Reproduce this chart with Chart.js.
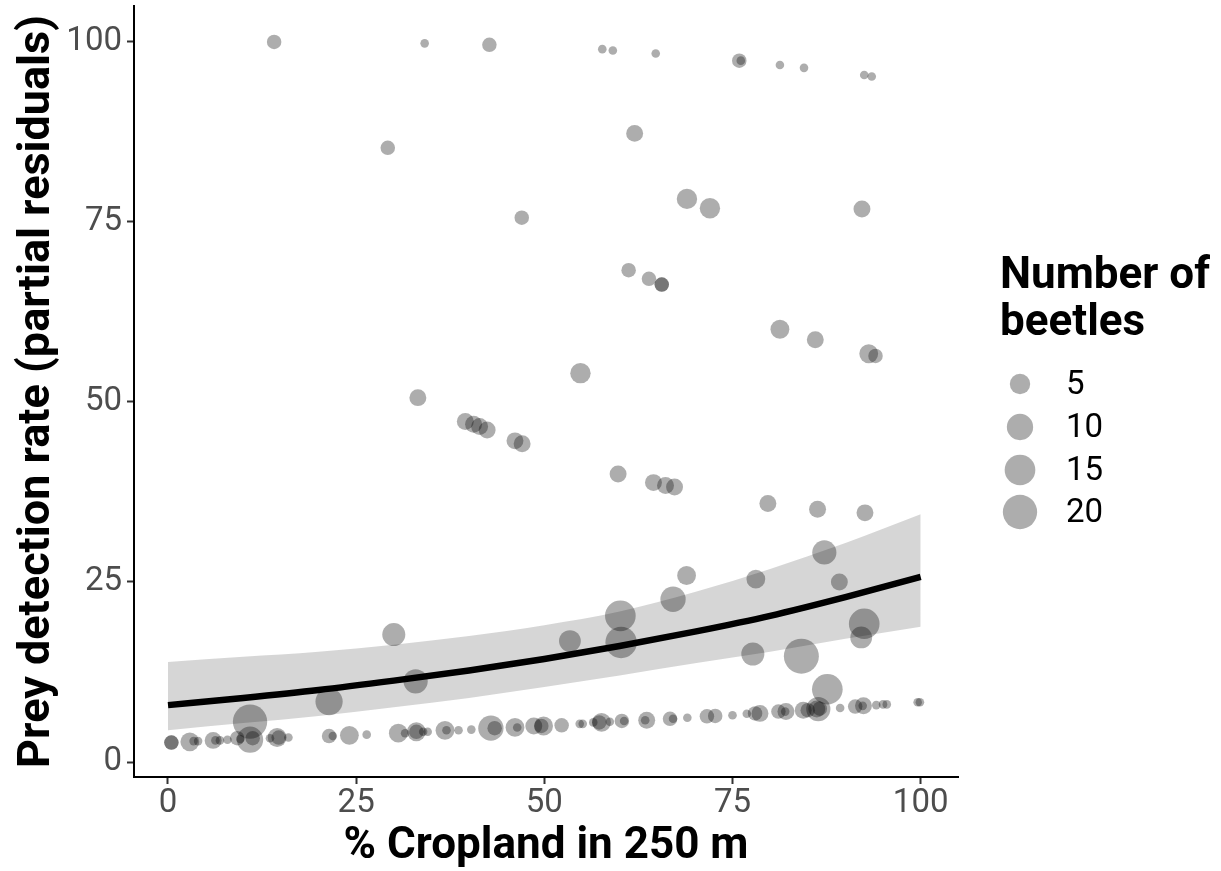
<!DOCTYPE html>
<html><head><meta charset="utf-8">
<script src="https://cdn.jsdelivr.net/npm/chart.js@4.4.1/dist/chart.umd.min.js"></script>
<style>html,body{margin:0;padding:0;background:#fff}#wrap{width:1221px;height:871px;position:relative}</style>
</head><body><div id="wrap"><canvas id="c"></canvas></div>
<script>
// % cropland (x), prey detection rate partial residuals (y), number of beetles (size)
const cropland = [
 14.1,34.1,42.7,57.7,59.1,64.8,75.9,76.1,81.3,84.5,92.5,93.5,
 29.2,62.0,47.0,68.95,72.0,92.2,61.2,63.9,65.6,65.6,81.3,86.0,93.1,94.0,
 54.8,33.2,39.5,40.6,41.4,42.4,46.1,47.05,59.8,64.5,66.1,67.3,79.7,86.3,92.6,
 87.2,89.2,78.1,68.9,67.1,60.1,60.2,53.4,30.0,32.9,77.7,84.15,92.5,92.1,87.6,21.4,10.9,
 10.9,11.25,0.45,0.45,2.9,3.4,4.0,6.0,6.3,6.9,7.9,9.2,9.6,13.55,14.5,14.7,16.0,
 21.4,21.9,24.1,26.4,30.6,31.5,33.0,33.0,33.9,34.5,36.8,37.0,38.6,40.3,42.9,43.4,
 46.1,46.4,48.6,49.9,49.6,52.3,54.7,55.1,56.5,57.6,57.3,58.7,60.3,60.6,63.6,63.4,
 66.7,67.1,69.0,71.6,72.7,75.0,76.9,78.0,78.65,81.1,82.1,82.0,84.4,85.0,86.4,86.2,86.6,
 89.3,91.3,92.4,92.3,94.1,95.0,95.5,99.6,99.9
];
const detection = [
 100.0,99.8,99.6,99.0,98.8,98.4,97.4,97.4,96.8,96.4,95.4,95.2,
 85.3,87.3,75.6,78.2,76.9,76.8,68.3,67.1,66.3,66.3,60.1,58.65,56.7,56.4,
 54.0,50.6,47.3,46.9,46.6,46.1,44.6,44.2,40.0,38.8,38.4,38.2,35.9,35.1,34.6,
 29.1,25.0,25.4,25.9,22.6,20.3,16.6,16.8,17.7,11.2,15.0,14.7,19.2,17.3,10.1,8.4,5.6,
 3.1,3.3,2.7,2.7,2.8,2.9,2.9,3.0,3.0,3.0,3.1,3.3,3.2,3.3,3.4,3.4,3.4,
 3.6,3.6,3.7,3.8,4.0,4.0,4.2,4.2,4.2,4.2,4.4,4.4,4.4,4.5,4.7,4.7,
 4.8,4.8,5.0,5.0,5.0,5.1,5.3,5.3,5.5,5.5,5.5,5.6,5.7,5.7,5.8,5.8,
 6.0,6.0,6.15,6.35,6.4,6.5,6.7,6.75,6.75,7.0,7.0,7.0,7.2,7.2,7.35,7.35,7.4,
 7.5,7.7,7.8,7.8,7.9,8.0,8.0,8.3,8.3
];
const beetles = [
 2,1,2,1,1,1,2,1,1,1,1,1,
 2,3,2,5,5,3,2,2,2,2,4,3,4,2,
 5,3,3,3,3,3,3,3,3,3,3,3,3,3,3,
 8,3,4,4,9,15,16,6,7,8,7,21,15,6,15,11,20,
 10,2,2,2,4,1,1,3,1,1,1,2,1,1,4,2,1,
 2,1,4,1,4,1,4,2,1,1,4,1,1,1,9,2,
 4,1,3,4,2,2,1,1,1,4,2,1,2,1,3,1,
 2,1,1,2,2,1,1,2,3,2,3,1,3,2,8,3,2,
 1,2,3,1,1,1,1,1,1
];
// fitted curve and confidence band
const fitX = [0,10,20,30,40,50,60,70,80,90,100];
const fitY = [7.9,8.9,10.0,11.3,12.7,14.3,16.1,18.1,20.3,22.9,25.7];
const fitLower = [4.4,5.4,6.4,7.6,8.9,10.4,12.0,13.7,15.3,17.1,18.8];
const fitUpper = [13.9,14.6,15.3,16.3,17.5,19.0,20.9,23.6,26.8,30.4,34.4];
const xTicks = [0,25,50,75,100];
const yTicks = [0,25,50,75,100];
const legendSizes = [5,10,15,20];

function sizeToRadius(n){ return 4.3 + 2.95*Math.sqrt(Math.max(n-1,0)); }

const points = cropland.map((x,i)=>({x:x, y:detection[i], n:beetles[i]}));
const toXY = arr => fitX.map((x,i)=>({x:x, y:arr[i]}));

const legendPlugin = {
  id:'sizeLegend',
  afterDraw(chart){
    const ctx = chart.ctx;
    const left = chart.chartArea.right + 42;
    ctx.save();
    ctx.fillStyle = '#000';
    ctx.font = 'bold 44px Roboto';
    ctx.textAlign = 'left';
    ctx.textBaseline = 'alphabetic';
    ctx.fillText('Number of', left, 288);
    ctx.fillText('beetles', left, 335);
    const ys = [384,427,470,512];
    legendSizes.forEach((s,i)=>{
      ctx.beginPath();
      ctx.fillStyle = 'rgba(0,0,0,0.32)';
      ctx.arc(left+20, ys[i], sizeToRadius(s), 0, Math.PI*2);
      ctx.fill();
      ctx.fillStyle = '#000';
      ctx.font = '33px Roboto';
      ctx.textBaseline = 'middle';
      ctx.fillText(String(s), left+66, ys[i]+2);
    });
    ctx.restore();
  }
};

new Chart(document.getElementById('c'), {
  type:'scatter',
  data:{datasets:[
    {label:'fit', type:'line', data:toXY(fitY), borderColor:'#000', borderWidth:6.5,
     pointRadius:0, tension:0.4, cubicInterpolationMode:'monotone', fill:false, order:0},
    {label:'points', data:points, backgroundColor:'rgba(0,0,0,0.32)', borderWidth:0,
     pointRadius:ctx=>sizeToRadius(ctx.raw ? ctx.raw.n : 1), pointHoverRadius:ctx=>sizeToRadius(ctx.raw ? ctx.raw.n : 1), order:1},
    {label:'upper', type:'line', data:toXY(fitUpper), borderWidth:0, borderColor:'rgba(0,0,0,0)',
     pointRadius:0, tension:0.4, cubicInterpolationMode:'monotone', fill:'+1', backgroundColor:'rgba(153,153,153,0.4)', order:2},
    {label:'lower', type:'line', data:toXY(fitLower), borderWidth:0, borderColor:'rgba(0,0,0,0)',
     pointRadius:0, tension:0.4, cubicInterpolationMode:'monotone', fill:false, order:3}
  ]},
  options:{
    responsive:true, maintainAspectRatio:false, animation:false, devicePixelRatio:1,
    layout:{autoPadding:false, padding:{left:0, right:263, top:6, bottom:0}},
    plugins:{legend:{display:false}, tooltip:{enabled:false}},
    scales:{
      x:{type:'linear', min:-4.517, max:104.96,
        afterBuildTicks:s=>{s.ticks = xTicks.map(v=>({value:v}));},
        afterFit:s=>{s.height = 94; s.paddingLeft = 0; s.paddingRight = 0;},
        grid:{display:true, drawOnChartArea:false, drawTicks:true, tickLength:7, tickColor:'#333', tickWidth:2},
        border:{display:true, color:'#000', width:2},
        ticks:{color:'#4d4d4d', font:{family:'Roboto', size:33}, padding:0, maxRotation:0, autoSkip:false},
        title:{display:true, text:'% Cropland in 250 m', color:'#000',
          font:{family:'Roboto', size:44, weight:'bold', lineHeight:1}, padding:{top:0,bottom:2}}
      },
      y:{type:'linear', min:-2.083, max:104.99,
        afterBuildTicks:s=>{s.ticks = yTicks.map(v=>({value:v}));},
        afterFit:s=>{s.width = 134; s.paddingTop = 0; s.paddingBottom = 0;},
        grid:{display:true, drawOnChartArea:false, drawTicks:true, tickLength:7, tickColor:'#333', tickWidth:2},
        border:{display:true, color:'#000', width:2},
        ticks:{color:'#4d4d4d', font:{family:'Roboto', size:33}, padding:5, autoSkip:false},
        title:{display:true, text:'Prey detection rate (partial residuals)', color:'#000',
          font:{family:'Roboto', size:45, weight:'bold', lineHeight:1}, padding:{top:15,bottom:0}}
      }
    }
  },
  plugins:[legendPlugin]
});
</script></body></html>
